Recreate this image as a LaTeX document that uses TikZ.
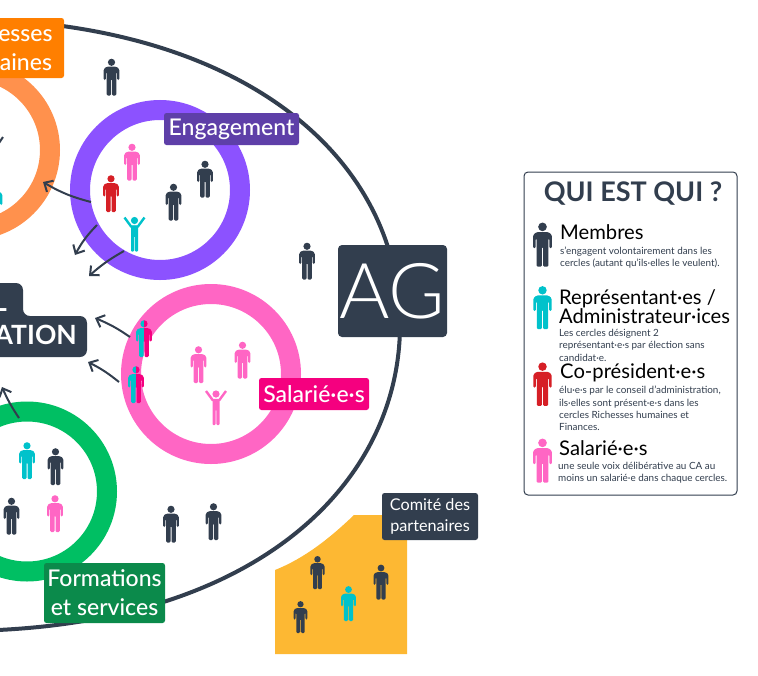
\documentclass[tikz,border=0pt]{standalone}
\usepackage{fontspec}
\setmainfont{Lato}
\newfontfamily\lightfont{Lato Light}
\newfontfamily\mediumfont{Lato Medium}
\usetikzlibrary{arrows.meta}
\definecolor{darkblue}{HTML}{323E4E}
\definecolor{violetring}{HTML}{8C52FF}
\definecolor{violetbox}{HTML}{5E3FA8}
\definecolor{orangering}{HTML}{FF914D}
\definecolor{orangebox}{HTML}{FF7F00}
\definecolor{pinkring}{HTML}{FF66C4}
\definecolor{pinkbox}{HTML}{F5007F}
\definecolor{greenring}{HTML}{00BF63}
\definecolor{greenbox}{HTML}{0B8A4B}
\definecolor{tealperson}{HTML}{00C2CB}
\definecolor{redperson}{HTML}{D61F26}
\definecolor{yellowarea}{HTML}{FDB833}
\tikzset{
	ring/.style={draw=#1, line width=20pt},
	tag/.style={fill=#1, text=white, rounded corners=2.5pt, inner sep=0pt, align=center, font=\mediumfont\fontsize{23}{29}\selectfont},
	legendhead/.style={anchor=west, inner sep=0pt, text=black, align=left, font=\fontsize{20.2}{16.8}\selectfont},
	legendtext/.style={anchor=north west, inner sep=0pt, text=darkblue, align=left, font=\fontsize{9.9}{12.4}\selectfont},
	flow/.style={draw=darkblue, line width=2pt, -{Straight Barb[length=7pt,width=13pt,line width=2pt]}},
	person/.pic={
		\fill[#1] (0,-14.7) circle[radius=3.6];
		\fill[#1, rounded corners=1.2pt] (-5,-10.3) -- (5,-10.3) -- (7.8,-8) -- (7.8,3) -- (5.7,3) -- (5.7,-5) -- (4.8,-5) -- (4.8,18.5) -- (0.5,18.5) -- (0.5,2) -- (-0.5,2) -- (-0.5,18.5) -- (-4.8,18.5) -- (-4.8,-5) -- (-5.7,-5) -- (-5.7,3) -- (-7.8,3) -- (-7.8,-8) -- cycle;
	},
	cheer/.pic={
		\fill[#1] (0,-13.5) circle[radius=3.6];
		\draw[#1, line width=2.4pt] (-10,-16.5) -- (-3.4,-7.5) -- (3.4,-7.5) -- (10,-16.5);
		\fill[#1, rounded corners=1pt] (-3.5,-8.5) -- (3.5,-8.5) -- (3.5,17.5) -- (0.4,17.5) -- (0.4,2) -- (-0.4,2) -- (-0.4,17.5) -- (-3.5,17.5) -- cycle;
	},
	halfperson/.pic={
		\begin{scope}
			\clip (-9,-20) rectangle (0,20);
			\pic {person=tealperson};
		\end{scope}
		\begin{scope}
			\clip (0,-20) rectangle (9,20);
			\pic {person=pinkbox};
		\end{scope}
	}
}

\begin{document}
\begin{tikzpicture}[x=1pt, y=-1pt]
	\useasboundingbox (0,0) rectangle (758,675);

	% grande ellipse
	\draw[draw=darkblue, line width=4pt] (400,325) .. controls (400,156) and (240,19) .. (-44,19) -- (-60,325) -- (-44,631) .. controls (260,631) and (400,480) .. (400,325);

	% cercles
	\draw[ring=orangering] (-30,150) circle[radius=80];
	\draw[ring=violetring] (160,190) circle[radius=80];
	\draw[ring=pinkring] (211,374) circle[radius=80];
	\draw[ring=greenring] (27,491.5) circle[radius=80];

	% comite
	\fill[yellowarea] (275,570) .. controls (305,558) and (330,538) .. (354,515) -- (407,515) -- (407,654) -- (275,654) -- cycle;

	% etiquettes
	\node[tag=orangebox, minimum width=121pt, minimum height=60pt] (rh) at (3.5,48) {Richesses\\humaines};
	\node[tag=violetbox, minimum width=135pt, minimum height=32pt] (engagement) at (231.5,129) {Engagement};
	\node[tag=pinkbox, minimum width=110pt, minimum height=32pt] (salaries) at (314,394) {Salarié·e·s};
	\node[tag=greenbox, minimum width=121pt, minimum height=60pt] (formations) at (104.5,593) {Formations\\et services};
	\node[tag=darkblue, minimum width=96pt, minimum height=47pt, font=\fontsize{16.2}{21}\selectfont] (comite) at (430,516.5) {Comité des\\partenaires};
	\node[tag=darkblue, minimum width=109pt, minimum height=92pt, rounded corners=4pt, font=\lightfont\fontsize{77}{77}\selectfont] (ag) at (392.5,291) {AG};

	% conseil
	\fill[darkblue, rounded corners=7pt] (-40,283) -- (23,283) -- (23,316) -- (87,316) -- (87,357) -- (-40,357) -- cycle;
	\node[text=white, inner sep=0pt, anchor=base east, font=\bfseries\fontsize{26.5}{26}\selectfont] (ca) at (77,344) {ATION};
	\node[text=white, inner sep=0pt, anchor=base east, font=\bfseries\fontsize{26.5}{26}\selectfont] (cb) at (7,311) {L};

	% fleches
	\coordinate (oa) at (-1,143);
	\coordinate (ob) at (3,137);
	\coordinate (va) at (91,202);
	\coordinate (vb) at (43,182);
	\coordinate (vc) at (97,225);
	\coordinate (vd) at (75,255);
	\coordinate (ve) at (124,251);
	\coordinate (vf) at (89,276);
	\coordinate (pa) at (130,337);
	\coordinate (pb) at (95,318);
	\coordinate (pc) at (119,382);
	\coordinate (pd) at (88,362);
	\coordinate (ga) at (19,418);
	\coordinate (gb) at (2,387);
	\draw[draw=darkblue, line width=2pt] (oa) -- (ob);
	\draw[flow] (va) to[bend left=8] (vb);
	\draw[flow] (vc) to[bend right=8] (vd);
	\draw[flow] (ve) to[bend right=6] (vf);
	\draw[flow] (pa) to[bend right=6] (pb);
	\draw[flow] (pc) to[bend right=6] (pd);
	\draw[flow] (ga) to[bend left=5] (gb);

	% personnes
	\pic at (111.5,77) {person=darkblue};
	\pic at (132,162) {person=pinkring};
	\pic at (111,193.5) {person=redperson};
	\pic at (173.5,202) {person=darkblue};
	\pic at (205,179) {person=darkblue};
	\pic at (134.5,234) {cheer=tealperson};
	\pic at (307,261) {person=darkblue};
	\pic at (-5.5,202) {person=tealperson};
	\pic at (144,338.5) {halfperson};
	\pic at (136,384.5) {halfperson};
	\pic at (198.5,364.5) {person=pinkring};
	\pic at (242.5,360) {person=pinkring};
	\pic at (216,407.5) {cheer=pinkring};
	\pic at (27,460.5) {person=tealperson};
	\pic at (55.5,466.5) {person=darkblue};
	\pic at (11.5,516) {person=darkblue};
	\pic at (55,513.5) {person=pinkring};
	\pic at (171,524) {person=darkblue};
	\pic at (213.5,521.5) {person=darkblue};
	\pic[scale=0.9] at (317.5,572.5) {person=darkblue};
	\pic[scale=0.95] at (381,582) {person=darkblue};
	\pic[scale=0.95] at (348.5,603.5) {person=tealperson};
	\pic[scale=0.87] at (300.5,617) {person=darkblue};

	% legende
	\node[draw=darkblue, fill=white, line width=1pt, rounded corners=4pt, minimum width=213pt, minimum height=323pt] (legend) at (630.5,333.5) {};
	\node[text=darkblue, inner sep=0pt, font=\bfseries\fontsize{27}{27}\selectfont] (title) at (633,193.5) {QUI EST QUI ?};
	\pic[scale=1.2] at (542.5,244.5) {person=darkblue};
	\pic[scale=1.17] at (542.5,307.5) {person=tealperson};
	\pic[scale=1.18] at (542.5,384) {person=redperson};
	\pic[scale=1.2] at (542.5,460.5) {person=pinkring};
	\node[legendhead] (membres) at (560,232) {Membres};
	\node[legendtext] (membrestext) at (560,246.5) {s'engagent volontairement dans les\\cercles (autant qu'ils·elles le veulent).};
	\node[legendhead] (representants) at (559,306.5) {Représentant·es /\\Administrateur·ices};
	\node[legendtext] (representantstext) at (559,329) {Les cercles désignent 2\\représentant·e·s par élection sans\\candidat·e.};
	\node[legendhead] (copresidents) at (560,373) {Co-président·e·s};
	\node[legendtext] (copresidentstext) at (559,386) {élu·e·s par le conseil d'administration,\\ils·elles sont présent·e·s dans les\\cercles Richesses humaines et\\Finances.};
	\node[legendhead] (salariesleg) at (559,448) {Salarié·e·s};
	\node[legendtext] (salariestext) at (558,462) {une seule voix délibérative au CA au\\moins un salarié·e dans chaque cercles.};
\end{tikzpicture}
\end{document}
